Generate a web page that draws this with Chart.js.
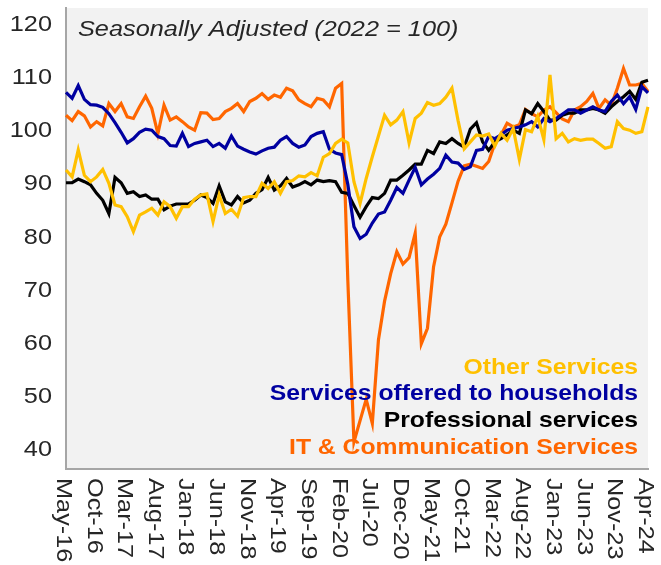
<!DOCTYPE html>
<html><head><meta charset="utf-8">
<script src="https://cdn.jsdelivr.net/npm/chart.js@4.4.1/dist/chart.umd.min.js"></script>
<style>html,body{margin:0;padding:0;background:#fff;overflow:hidden;}</style>
</head><body>
<canvas id="c" width="661" height="565" style="width:661px;height:565px;display:block"></canvas>
<script>
// ---- categories (monthly, May-16 .. Apr-24) ----
const monthNames = ['Jan','Feb','Mar','Apr','May','Jun','Jul','Aug','Sep','Oct','Nov','Dec'];
const months = [];
for (let y = 2016, m = 4; !(y === 2024 && m === 4); ) {
  months.push(monthNames[m] + '-' + String(y).slice(2));
  m++; if (m === 12) { m = 0; y++; }
}
// ---- tick labels shown on the x axis ----
const tickLabels = ['May-16','Oct-16','Mar-17','Aug-17','Jan-18','Jun-18','Nov-18','Apr-19','Sep-19','Feb-20',
  'Jul-20','Dec-20','May-21','Oct-21','Mar-22','Aug-22','Jan-23','Jun-23','Nov-23','Apr-24'];
const yTicks = [40,50,60,70,80,90,100,110,120];
const titleText = 'Seasonally Adjusted (2022 = 100)';
const seriesNames = ['Other Services','Services offered to households','Professional services','IT & Communication Services'];

// ---- series values ----
const otherServices = [92.7,91.4,96.5,91.7,90.5,91.4,92.8,90.2,86.1,85.8,83.9,81.1,84.2,84.8,85.5,84.2,86.7,85.8,83.6,85.8,
  85.8,87.2,88.0,88.2,83.0,88.0,84.5,85.3,84.0,87.5,87.7,87.7,90.2,89.2,90.5,88.3,90.5,90.7,91.6,91.4,
  92.2,91.6,95.1,95.8,97.7,98.5,97.8,90.5,86.4,91.1,95.2,99.1,103.0,101.2,102.1,103.7,97.8,102.4,103.4,105.4,
  104.9,105.2,106.4,108.1,102.0,96.7,98.0,99.3,99.1,99.5,97.2,99.6,98.3,100.5,94.7,100.3,99.9,102.8,98.4,110.6,
  98.6,99.6,98.0,98.6,98.3,98.5,98.5,97.7,96.8,97.1,101.8,100.5,100.2,99.6,99.9,104.6];
const households = [107.3,106.2,108.6,106.0,105.0,104.9,104.5,103.3,101.6,99.8,97.8,98.6,99.8,100.4,100.2,99.0,98.6,97.3,97.2,99.6,
  97.1,97.7,98.0,98.3,97.1,97.7,96.8,99.1,97.2,96.6,96.1,95.7,96.3,96.8,97.0,98.3,99.0,97.7,97.0,97.4,
  99.0,99.6,99.9,96.6,95.9,95.6,90.0,82.0,79.8,80.6,82.7,84.4,84.8,87.0,89.4,88.3,90.8,93.2,89.9,91.0,
  91.9,93.0,95.5,94.2,94.0,92.8,93.3,96.4,96.6,99.0,98.6,99.3,100.2,100.5,100.8,101.2,101.8,100.8,102.4,101.8,
  102.4,103.2,104.0,104.0,103.4,104.0,104.6,104.0,103.7,105.6,106.8,105.2,106.5,104.1,108.4,107.2];
const professional = [90.3,90.3,91.0,90.5,89.9,88.3,87.0,84.5,91.3,90.3,88.3,88.6,87.7,88.0,87.2,87.2,85.2,85.9,86.3,86.3,
  86.3,87.0,88.0,87.5,86.4,89.7,86.7,86.1,87.7,86.5,87.0,88.3,89.0,91.3,88.9,89.7,91.1,89.5,89.9,90.5,
  89.9,90.8,90.5,90.7,90.5,88.5,88.3,86.0,83.8,85.8,87.5,87.3,88.3,90.8,90.8,91.7,92.7,93.8,93.8,96.4,
  95.8,98.0,97.7,98.6,97.7,97.0,100.4,101.6,98.0,96.4,98.0,98.6,99.3,100.2,99.6,104.0,103.3,105.2,103.7,102.1,
  102.1,103.0,103.4,103.4,104.0,104.0,104.3,104.0,103.4,104.6,105.6,106.5,107.5,106.0,109.2,109.6];
const itComm = [103.0,102.0,103.7,102.9,100.8,101.8,101.0,105.2,103.7,105.2,102.7,102.4,104.6,106.6,104.3,99.5,104.9,102.1,102.7,101.8,
  100.8,100.2,103.5,103.4,102.2,102.4,103.7,104.3,105.2,103.7,105.6,106.2,107.1,106.0,106.8,106.4,108.1,107.6,105.9,105.2,
  104.6,106.2,105.9,104.6,108.1,109.0,72.0,41.5,45.5,49.5,45.0,60.7,68.0,73.2,77.3,75.0,76.2,80.8,60.0,62.9,
  74.5,80.1,82.5,86.5,90.6,93.5,93.8,93.4,93.0,94.3,97.7,99.3,101.5,100.8,101.2,104.1,103.3,102.7,104.0,104.6,
  103.5,102.3,101.8,104.0,104.6,105.6,107.1,104.3,105.9,104.9,108.1,111.8,108.7,108.7,109.0,107.5];

const colors = ['#FFC000','#0000A0','#000000','#FF6600'];
const seriesData = [otherServices, households, professional, itComm];
const FONT = '"Liberation Sans", Arial, sans-serif';
const SX = 1.15; // horizontal widening of the reference's text

function stretchedText(ctx, text, x, y, align, rot) {
  ctx.save();
  ctx.translate(x, y);
  if (rot) ctx.rotate(rot);
  ctx.scale(SX, 1);
  ctx.textAlign = align;
  ctx.fillText(text, 0, 0);
  ctx.restore();
}

const decor = {
  id: 'decor',
  beforeDraw(chart) {
    const {ctx, chartArea: a} = chart;
    ctx.save();
    ctx.fillStyle = '#ffffff';
    ctx.fillRect(0, 0, chart.width, chart.height);
    ctx.fillStyle = '#F2F2F2';
    ctx.fillRect(a.left, a.top, a.right - a.left, a.bottom - a.top);
    ctx.restore();
  },
  afterDraw(chart) {
    const {ctx, chartArea: a} = chart;
    const xs = chart.scales.x, ys = chart.scales.y;
    ctx.save();
    ctx.textBaseline = 'middle';
    ctx.fillStyle = '#262626';
    // y tick labels
    ctx.font = '22px ' + FONT;
    yTicks.forEach(v => stretchedText(ctx, String(v), a.left - 14, ys.getPixelForValue(v), 'right'));
    // x tick labels, rotated clockwise
    tickLabels.forEach(lbl => {
      const i = months.indexOf(lbl);
      stretchedText(ctx, lbl, xs.getPixelForValue(i) - 3, a.bottom + 9, 'left', Math.PI / 2);
    });
    // title
    ctx.font = 'italic 22px ' + FONT;
    stretchedText(ctx, titleText, a.left + 12, a.top + 22, 'left');
    // legend texts
    ctx.font = 'bold 21.5px ' + FONT;
    const ly = [368, 394, 421, 448];
    chart.data.datasets.forEach((ds, k) => {
      ctx.fillStyle = ds.borderColor;
      stretchedText(ctx, ds.label, a.right - 10, ly[k], 'right');
    });
    ctx.restore();
  }
};

new Chart(document.getElementById('c'), {
  type: 'line',
  data: {
    labels: months,
    datasets: seriesNames.map((n, k) => ({
      label: n,
      data: seriesData[k],
      borderColor: colors[k],
      backgroundColor: colors[k],
      borderWidth: 3.2,
      pointRadius: 0,
      tension: 0,
      fill: false
    }))
  },
  options: {
    responsive: false,
    animation: false,
    devicePixelRatio: 1,
    layout: { padding: { top: 8, right: 13, bottom: 96, left: 0 } },
    plugins: { legend: { display: false }, tooltip: { enabled: false } },
    scales: {
      x: {
        type: 'category',
        offset: false,
        grid: { display: false, drawTicks: false },
        border: { display: true, color: '#A6A6A6', width: 2 },
        ticks: { display: false },
        afterFit(s) { s.height = 0; }
      },
      y: {
        min: 36.4, max: 123.2,
        afterBuildTicks(s) { s.ticks = yTicks.map(v => ({ value: v })); },
        grid: { display: false, drawTicks: false },
        border: { display: true, color: '#A6A6A6', width: 2 },
        ticks: { display: false },
        afterFit(s) { s.width = 66; }
      }
    }
  },
  plugins: [decor]
});
</script>
</body></html>
